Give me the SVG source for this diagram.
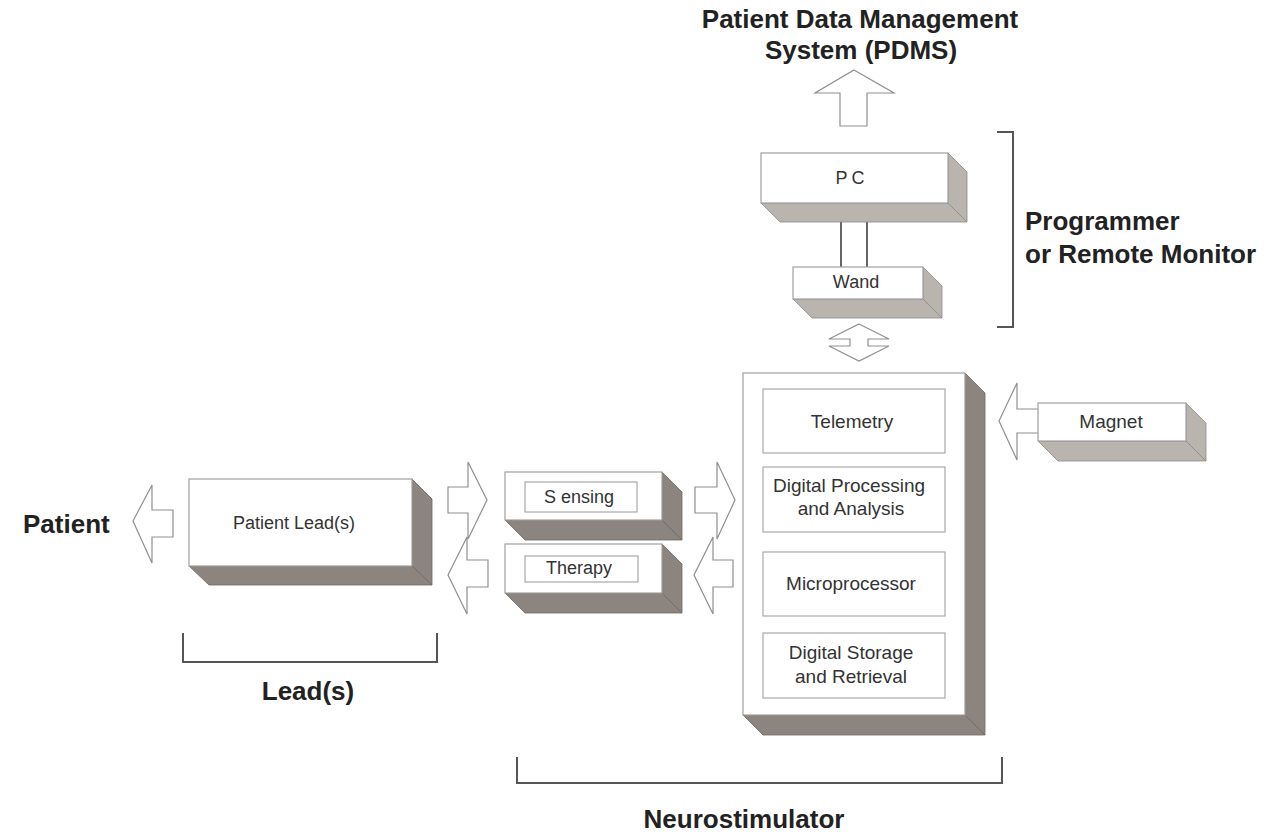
<svg xmlns="http://www.w3.org/2000/svg" width="1279" height="832" viewBox="0 0 1279 832">
<style>
.front{fill:#fff;stroke:#a0a0a0;stroke-width:1.2}
.inner{fill:#fff;stroke:#a8a8a8;stroke-width:1.2}
.dark{fill:#8c847e;stroke:#6f6862;stroke-width:0.8}
.light{fill:#b9b4ae;stroke:#8f8a85;stroke-width:0.8}
.arrow{fill:#fff;stroke:#8f8f8f;stroke-width:1.2;stroke-linejoin:miter}
.wire{stroke:#555;stroke-width:1.8;fill:none}
.bracket{stroke:#555;stroke-width:2;fill:none}
.big{font-family:"Liberation Sans",Arial,sans-serif;font-weight:bold;font-size:26px;fill:#222}
.lbl{font-family:"Liberation Sans",Arial,sans-serif;font-size:18px;fill:#333;text-anchor:middle}
.nl{font-size:19px}
</style>
<rect width="1279" height="832" fill="#fff"/>

<g id="connectors">
  <polygon class="arrow" points="854,70 894,93 867,93 867,126 840,126 840,93 815,93"/>
  <line class="wire" x1="841" y1="222" x2="841" y2="267"/>
  <line class="wire" x1="867" y1="222" x2="867" y2="267"/>
  <polygon class="arrow" points="859,324 889,339 868,339 868,346 889,346 859,361 829,346 850,346 850,339 829,339"/>
  <polygon class="arrow" points="999,421 1017,383 1017,409 1042,409 1042,433 1017,433 1017,460"/>
  <polygon class="arrow" points="133,521 152,485 152,510 173,510 173,537 152,537 152,563"/>
  <polygon class="arrow" points="448,487 468,487 468,462 487,500 468,539 468,513 448,513"/>
  <polygon class="arrow" points="448,575 467,537 467,560 488,560 488,587 467,587 467,614"/>
  <polygon class="arrow" points="695,487 717,487 717,462 735,500 717,539 717,513 695,513"/>
  <polygon class="arrow" points="694,575 713,537 713,560 733,560 733,587 713,587 713,614"/>
</g>

<g id="brackets">
  <path class="bracket" d="M997,132 H1013 V327 H997"/>
  <path class="bracket" d="M183,633 V662 H437 V633"/>
  <path class="bracket" d="M517,757 V783 H1002 V757"/>
</g>

<g id="pc">
  <polygon class="light" points="948,153 967,172 967,222 948,203"/>
  <polygon class="light" points="761,203 948,203 967,222 780,222"/>
  <rect class="front" x="761" y="153" width="187" height="50"/>
  <text class="lbl" x="852" y="184" letter-spacing="4">PC</text>
</g>

<g id="wand">
  <polygon class="light" points="923,267 942,286 942,318 923,299"/>
  <polygon class="light" points="793,299 923,299 942,318 812,318"/>
  <rect class="front" x="793" y="267" width="130" height="32"/>
  <text class="lbl" x="856" y="288">Wand</text>
</g>

<g id="neurostimulator">
  <polygon class="dark" points="965,373 985,393 985,735 965,715"/>
  <polygon class="dark" points="743,715 965,715 985,735 763,735"/>
  <rect class="front" x="743" y="373" width="222" height="342"/>
  <g id="telemetry">
    <rect class="inner" x="763" y="389" width="182" height="64"/>
    <text class="lbl nl" x="852" y="428">Telemetry</text>
  </g>
  <g id="processing">
    <rect class="inner" x="763" y="467" width="182" height="65"/>
    <text class="lbl nl" x="849" y="492">Digital Processing</text>
    <text class="lbl nl" x="851" y="515">and Analysis</text>
  </g>
  <g id="microprocessor">
    <rect class="inner" x="763" y="552" width="182" height="64"/>
    <text class="lbl nl" x="851" y="590">Microprocessor</text>
  </g>
  <g id="storage">
    <rect class="inner" x="763" y="633" width="182" height="65"/>
    <text class="lbl nl" x="851" y="659">Digital Storage</text>
    <text class="lbl nl" x="851" y="683">and Retrieval</text>
  </g>
</g>

<g id="magnet">
  <polygon class="light" points="1186,403 1206,423 1206,461 1186,441"/>
  <polygon class="light" points="1038,441 1186,441 1206,461 1058,461"/>
  <rect class="front" x="1038" y="403" width="148" height="38"/>
  <text class="lbl nl" x="1111" y="428">Magnet</text>
</g>

<g id="patient-lead">
  <polygon class="dark" points="412,479 432,499 432,585 412,566"/>
  <polygon class="dark" points="189,566 412,566 432,585 209,585"/>
  <rect class="front" x="189" y="479" width="223" height="87"/>
  <text class="lbl" x="294" y="529" font-size="17">Patient Lead(s)</text>
</g>

<g id="sensing">
  <polygon class="dark" points="662,472 682,492 682,540 662,520"/>
  <polygon class="dark" points="505,520 662,520 682,540 525,540"/>
  <rect class="front" x="505" y="472" width="157" height="48"/>
  <rect class="inner" x="525" y="482" width="112" height="30"/>
  <text class="lbl" x="579" y="503">S ensing</text>
</g>

<g id="therapy">
  <polygon class="dark" points="662,544 682,564 682,613 662,593"/>
  <polygon class="dark" points="505,593 662,593 682,613 525,613"/>
  <rect class="front" x="505" y="544" width="157" height="49"/>
  <rect class="inner" x="525" y="556" width="113" height="26"/>
  <text class="lbl" x="579" y="574">Therapy</text>
</g>

<g id="labels">
  <text class="big" x="860" y="28" text-anchor="middle">Patient Data Management</text>
  <text class="big" x="861" y="59" text-anchor="middle">System (PDMS)</text>
  <text class="big" x="1025" y="230">Programmer</text>
  <text class="big" x="1025" y="263">or Remote Monitor</text>
  <text class="big" x="23" y="533">Patient</text>
  <text class="big" x="308" y="700" text-anchor="middle">Lead(s)</text>
  <text class="big" x="744" y="828" text-anchor="middle">Neurostimulator</text>
</g>
</svg>
